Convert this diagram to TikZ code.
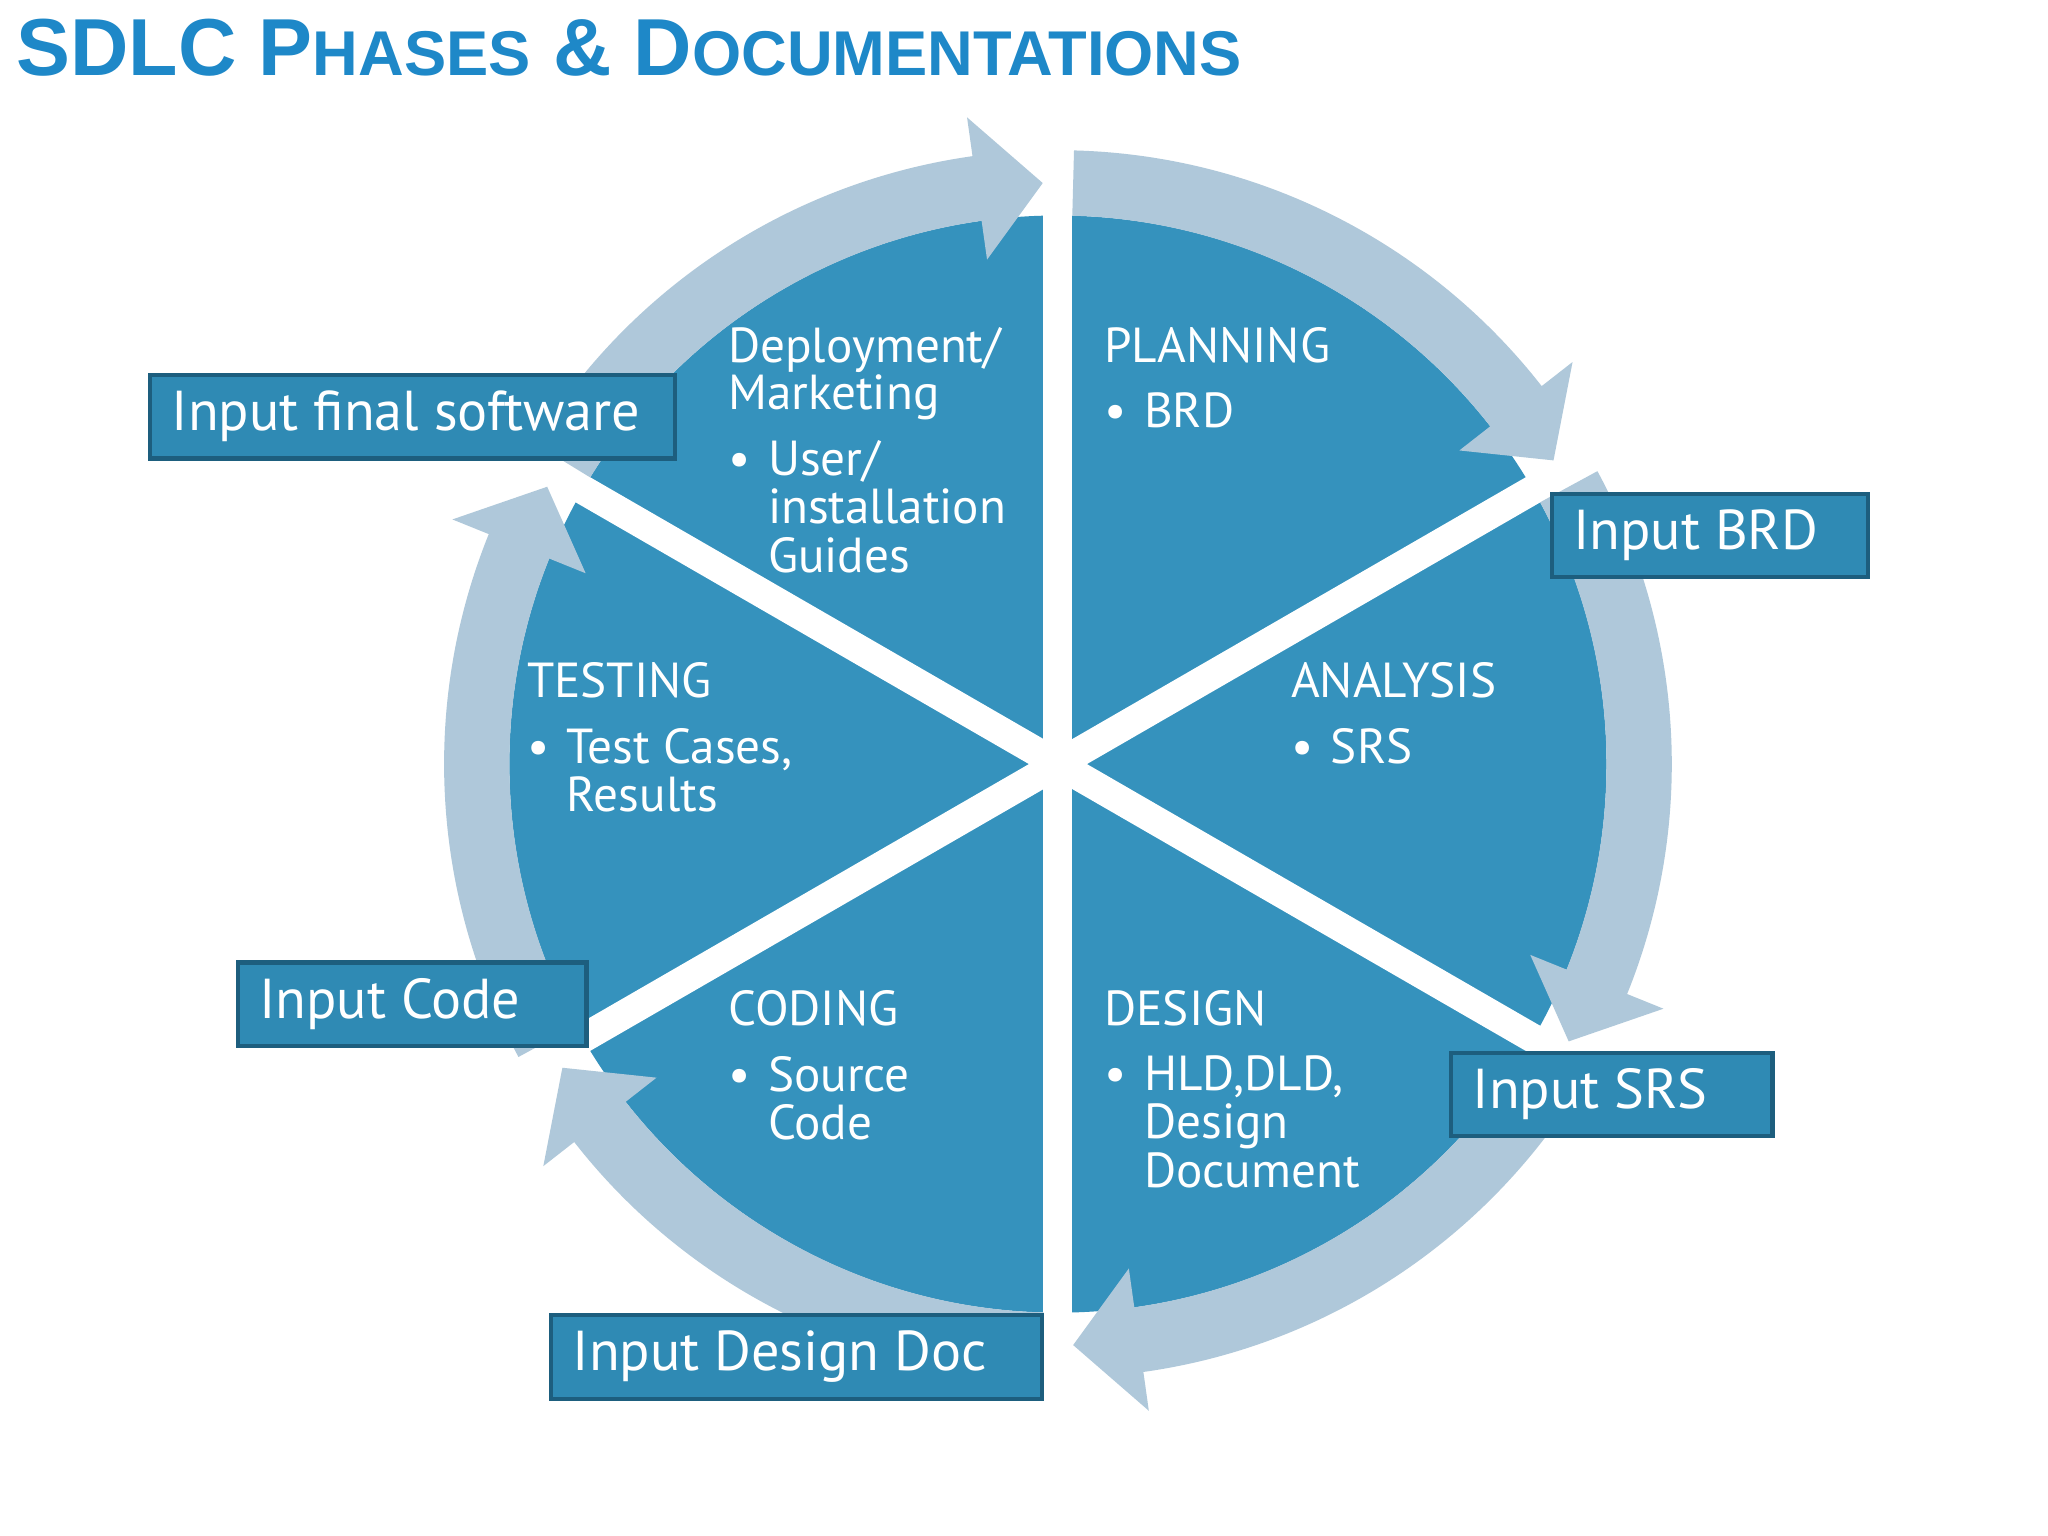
\documentclass[tikz,border=0pt]{standalone}
\usepackage{fontspec}
\setmainfont{PT Sans}
\newfontfamily\titlefont{Liberation Sans}
\definecolor{pie}{HTML}{3592BD}
\definecolor{ring}{HTML}{AFC8DA}
\definecolor{boxfill}{HTML}{2F8AB4}
\definecolor{boxline}{HTML}{1D5E7E}
\definecolor{titleblue}{HTML}{1E88C8}
\tikzset{
  ringarrow/.style={fill=ring,draw=none},
  inbox/.style={fill=boxfill,draw=boxline,line width=1.2pt},
  boxtext/.style={text=white,font=\fontsize{16}{19}\selectfont,anchor=west,inner sep=0pt},
  head/.style={text=white,font=\fontsize{14}{13.5}\selectfont,anchor=north west,align=left,inner sep=0pt},
  blist/.style={text=white,font=\fontsize{14}{13.5}\selectfont,anchor=north west,inner sep=0pt}
}
\newcommand{\ringarr}[1]{%
  \fill[ringarrow] ({#1-1.5}:470) arc[start angle={#1-1.5},end angle={#1-52},radius=470]
   -- ({#1-52}:500) -- ({#1-58.5}:445) -- ({#1-52}:390) -- ({#1-52}:420)
   arc[start angle={#1-52},end angle={#1-1.5},radius=420] -- cycle;}
\newcommand{\blt}[1]{\renewcommand{\arraystretch}{0.93}\begin{tabular}{@{}l@{\hspace{5pt}}l@{}}\textbullet & #1\end{tabular}}
\begin{document}
\begin{tikzpicture}[x=0.01306cm,y=0.01306cm]
\useasboundingbox[fill=white] (-810,585) rectangle (758,-591);
\node[anchor=base west,inner sep=0pt,text=titleblue] (title) at (-798,527)
  {\titlefont\bfseries\fontsize{23}{26}\selectfont SDLC P{\fontsize{18}{20}\selectfont HASES} \& D{\fontsize{18}{20}\selectfont OCUMENTATIONS}};
\fill[pie] (0,0) circle[radius=420];
\foreach \a in {90,30,-30}
  \draw[white,line width=0.29cm] (\a:430) -- (\a+180:430);
\foreach \a in {90,30,-30,-90,-150,150} {\ringarr{\a}}
% texts
\node[head] (t1) at (-253,335) {Deployment/\\Marketing};
\node[blist] (b1) at (-253,248) {\blt{User/\\ & installation\\ & Guides}};
\node[head] (t2) at (35,335) {PLANNING};
\node[blist] (b2) at (35,285) {\blt{BRD}};
\node[head] (t3) at (178,78) {ANALYSIS};
\node[blist] (b3) at (178,28) {\blt{SRS}};
\node[head] (t4) at (-407,78) {TESTING};
\node[blist] (b4) at (-407,28) {\blt{Test Cases,\\ & Results}};
\node[head] (t5) at (-253,-173) {CODING};
\node[blist] (b5) at (-253,-223) {\blt{Source\\ & Code}};
\node[head] (t6) at (35,-173) {DESIGN};
\node[blist] (b6) at (35,-223) {\blt{HLD,DLD,\\ & Design\\ & Document}};
% boxes
\draw[inbox] (-695,298) rectangle (-293,234);
\node[boxtext] (x1) at (-679,266) {Input final software};
\draw[inbox] (378,207) rectangle (620,143);
\node[boxtext] (x2) at (394,175) {Input BRD};
\draw[inbox] (301,-221) rectangle (547,-285);
\node[boxtext] (x3) at (317,-253) {Input SRS};
\draw[inbox] (-388,-422) rectangle (-12,-486);
\node[boxtext] (x4) at (-372,-454) {Input Design Doc};
\draw[inbox] (-628,-152) rectangle (-361,-216);
\node[boxtext] (x5) at (-612,-184) {Input Code};
\end{tikzpicture}
\end{document}
